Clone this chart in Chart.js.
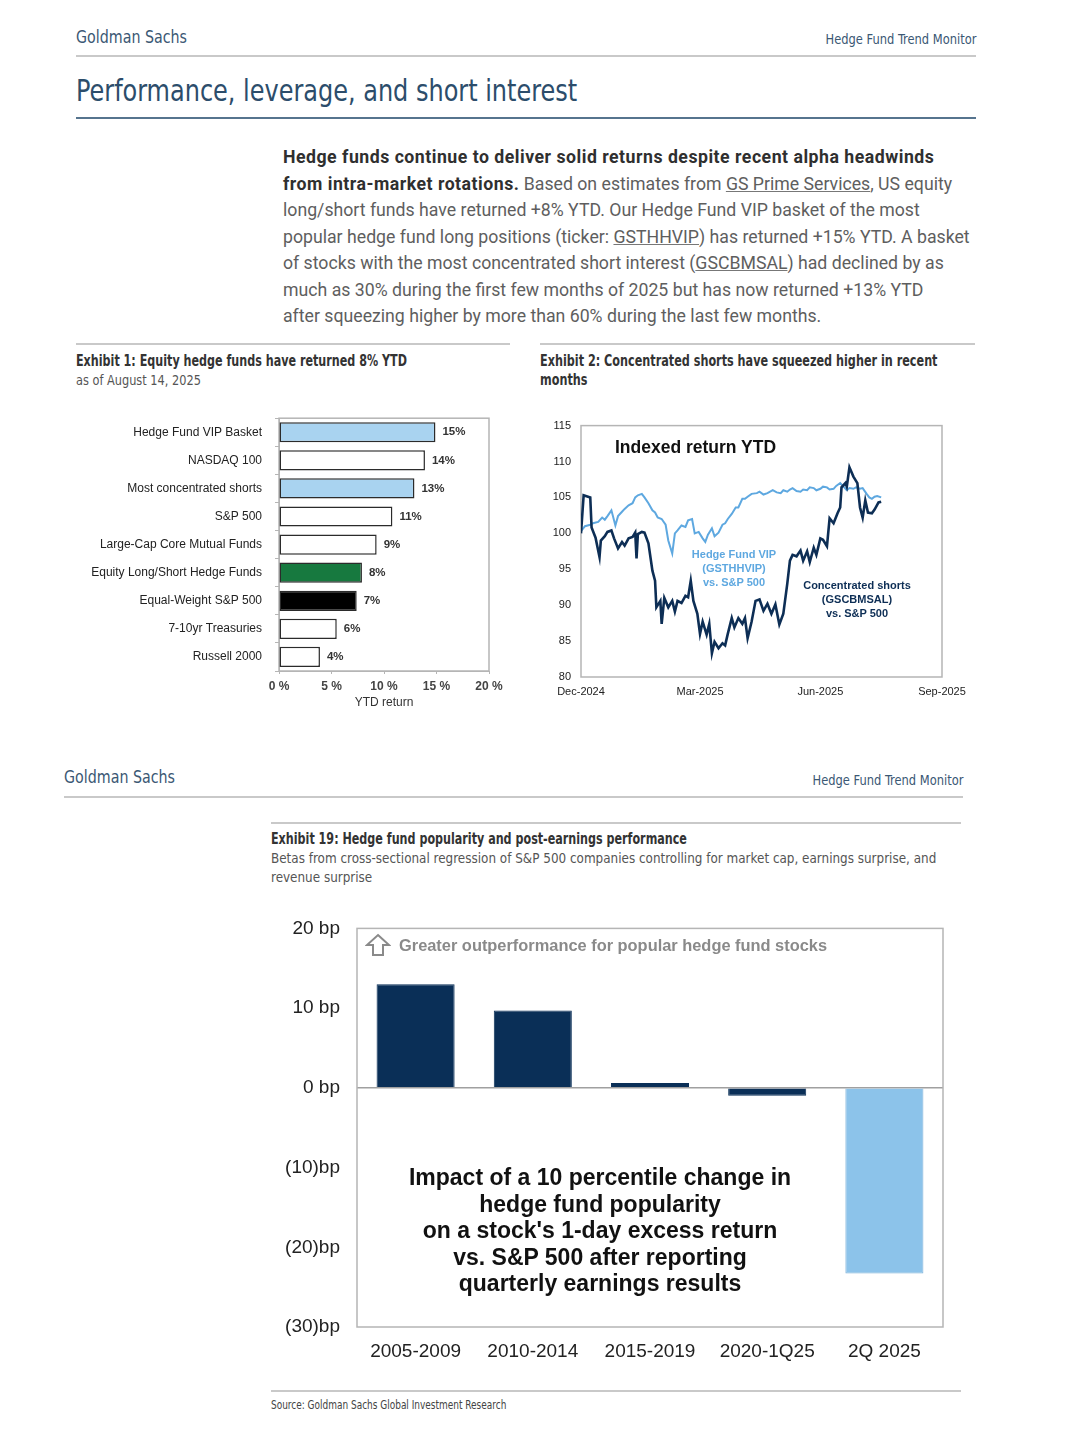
<!DOCTYPE html>
<html>
<head>
<meta charset="utf-8">
<title>Hedge Fund Trend Monitor</title>
<script src="https://cdn.jsdelivr.net/npm/chart.js"></script>
<style>
	body { margin: 0; background: #ffffff; }
	.page { position: relative; width: 1080px; height: 1440px; overflow: hidden; }
	.abs { position: absolute; white-space: nowrap; }
	.narrow { font-family: 'Liberation Sans Narrow', 'DejaVu Sans Condensed', 'Roboto', sans-serif; transform-origin: left center; }
	.right { transform-origin: right center; }
	.gs { color: #3b5874; font-size: 18px; line-height: 20px; }
	.monitor { color: #3b5874; font-size: 14.5px; line-height: 18px; }
	.rule { position: absolute; height: 2px; background: #c9c9c9; }
	.body { font-family: 'Roboto', 'Liberation Sans', sans-serif; font-size: 17.7px; line-height: 26.5px; color: #5e5e5e; left: 283px; top: 144px; }
	.body b { color: #2f2f2f; letter-spacing: 0.5px; }
	.body u { text-decoration-color: #777; }
	.extitle { font-weight: bold; color: #333; font-size: 15.5px; line-height: 19px; }
	.exsub { color: #555; font-size: 14.5px; line-height: 19px; }
	canvas { position: absolute; }
	.ann { font-family: 'Liberation Sans', Arial, sans-serif; font-weight: bold; text-align: center; }
</style>
</head>
<body>
<div class="page">

	<!-- page 1 header -->
	<div class="abs narrow gs" style="left:76px; top:27px; transform:scaleX(0.88);">Goldman Sachs</div>
	<div class="abs narrow monitor right" style="right:104px; top:30px; transform:scaleX(0.88);">Hedge Fund Trend Monitor</div>
	<div class="rule" style="left:76px; top:55px; width:900px;"></div>
	<div class="abs narrow" style="left:76px; top:71px; font-size:31px; line-height:38px; color:#2c4d6b; transform:scaleX(0.86);">Performance, leverage, and short interest</div>
	<div class="rule" style="left:76px; top:117px; width:900px; background:#56748e;"></div>

	<div class="abs body">
		<b>Hedge funds continue to deliver solid returns despite recent alpha headwinds</b><br>
		<b>from intra-market rotations.</b> Based on estimates from <u>GS Prime Services</u>, US equity<br>
		long/short funds have returned +8% YTD. Our Hedge Fund VIP basket of the most<br>
		popular hedge fund long positions (ticker: <u>GSTHHVIP</u>) has returned +15% YTD. A basket<br>
		of stocks with the most concentrated short interest (<u>GSCBMSAL</u>) had declined by as<br>
		much as 30% during the first few months of 2025 but has now returned +13% YTD<br>
		after squeezing higher by more than 60% during the last few months.
	</div>

	<!-- exhibit 1 -->
	<div class="rule" style="left:76px; top:343px; width:434px;"></div>
	<div class="abs narrow extitle" style="left:76px; top:352px; transform:scaleX(0.8);">Exhibit 1: Equity hedge funds have returned 8% YTD</div>
	<div class="abs narrow exsub" style="left:76px; top:371px; transform:scaleX(0.87);">as of August 14, 2025</div>
	<canvas id="chart1" width="440" height="317" style="left:76px; top:398px; width:440px; height:317px;"></canvas>

	<!-- exhibit 2 -->
	<div class="rule" style="left:540px; top:343px; width:435px;"></div>
	<div class="abs narrow extitle" style="left:540px; top:352px; transform:scaleX(0.805);">Exhibit 2: Concentrated shorts have squeezed higher in recent<br>months</div>
	<canvas id="chart2" width="440" height="299" style="left:540px; top:409px; width:440px; height:299px;"></canvas>
	<div class="abs ann" style="left:615px; top:437px; font-size:17.5px; line-height:20px; color:#111;">Indexed return YTD</div>
	<div class="abs ann" style="left:674px; top:547px; width:120px; font-size:11px; line-height:14px; color:#5ea8e0;">Hedge Fund VIP<br>(GSTHHVIP)<br>vs. S&amp;P 500</div>
	<div class="abs ann" style="left:792px; top:578px; width:130px; font-size:11px; line-height:14px; color:#0d2e55;">Concentrated shorts<br>(GSCBMSAL)<br>vs. S&amp;P 500</div>

	<!-- page 2 header -->
	<div class="abs narrow gs" style="left:64px; top:767px; transform:scaleX(0.88);">Goldman Sachs</div>
	<div class="abs narrow monitor right" style="right:117px; top:771px; transform:scaleX(0.88);">Hedge Fund Trend Monitor</div>
	<div class="rule" style="left:64px; top:796px; width:899px;"></div>

	<!-- exhibit 19 -->
	<div class="rule" style="left:271px; top:822px; width:690px;"></div>
	<div class="abs narrow extitle" style="left:271px; top:830px; transform:scaleX(0.8);">Exhibit 19: Hedge fund popularity and post-earnings performance</div>
	<div class="abs narrow exsub" style="left:271px; top:849px; transform:scaleX(0.92); transform-origin:left top;">Betas from cross-sectional regression of S&amp;P 500 companies controlling for market cap, earnings surprise, and<br>revenue surprise</div>
	<canvas id="chart3" width="700" height="472" style="left:270px; top:900px; width:700px; height:472px;"></canvas>
	<svg class="abs" style="left:365px; top:933px;" width="26" height="24" viewBox="0 0 26 24">
		<path d="M13 2 L24 12 L18 12 L18 22 L8 22 L8 12 L2 12 Z" fill="none" stroke="#8a8a8a" stroke-width="2" stroke-linejoin="miter"/>
	</svg>
	<div class="abs ann" style="left:399px; top:935px; font-size:16.4px; line-height:20px; color:#8a8a8a;">Greater outperformance for popular hedge fund stocks</div>
	<div class="abs ann" style="left:360px; top:1164px; width:480px; font-size:23px; line-height:26.5px; color:#111;">Impact of a 10 percentile change in<br>hedge fund popularity<br>on a stock's 1-day excess return<br>vs. S&amp;P 500 after reporting<br>quarterly earnings results</div>

	<div class="rule" style="left:271px; top:1390px; width:690px;"></div>
	<div class="abs narrow" style="left:271px; top:1398px; font-size:12px; line-height:15px; color:#444; transform:scaleX(0.83);">Source: Goldman Sachs Global Investment Research</div>
</div>

<script>

	// exhibit 1 - YTD return (%)
	var ytdLabels = ['Hedge Fund VIP Basket', 'NASDAQ 100', 'Most concentrated shorts', 'S&P 500', 'Large-Cap Core Mutual Funds', 'Equity Long/Short Hedge Funds', 'Equal-Weight S&P 500', '7-10yr Treasuries', 'Russell 2000']
	var ytdValues = [14.9, 13.9, 12.9, 10.8, 9.3, 7.9, 7.4, 5.5, 3.9]
	var ytdColors = ['#a9d3f0', '#ffffff', '#a9d3f0', '#ffffff', '#ffffff', '#17793f', '#000000', '#ffffff', '#ffffff']

	// exhibit 2 - indexed return, days after 31 Dec 2024
	var monthTickDays = [0, 90, 181, 273]
	var monthTickLabels = ['Dec-2024', 'Mar-2025', 'Jun-2025', 'Sep-2025']

	var shortsDays = [0, 2, 7, 8, 11, 14, 15, 18, 20, 23, 25, 28, 31, 33, 36, 39, 41, 42, 43, 46, 48, 51, 54, 56, 57, 60, 61, 63, 66, 69, 71, 73, 76, 79, 81, 83, 85, 88, 90, 92, 95, 97, 99, 101, 104, 107, 109, 111, 114, 116, 119, 122, 124, 126, 129, 132, 135, 138, 141, 144, 147, 150, 153, 156, 158, 160, 163, 166, 168, 171, 173, 176, 178, 181, 183, 186, 188, 191, 194, 196, 197, 200, 201, 203, 206, 209, 211, 213, 215, 217, 220, 222, 225, 227]
	var shortsVals = [100, 105.3, 105, 100.8, 99.4, 96.7, 99, 99.6, 100.2, 100.4, 99.3, 97.9, 98.8, 98.3, 99.3, 99.5, 100.1, 96.5, 99.9, 100.2, 100.1, 98.6, 94.8, 93.4, 89.7, 90.6, 87.4, 91, 89.7, 90.6, 89.1, 90.6, 90.3, 91.3, 91.1, 93.4, 90.6, 88.8, 86, 87.7, 85.9, 87.4, 83.3, 84.9, 84, 84.7, 84.4, 86, 88.2, 86.9, 88.2, 87.4, 88.2, 85.4, 87.7, 90.6, 90.8, 89.2, 90.2, 88.8, 90.1, 87.3, 88.8, 93, 96.2, 97, 96.8, 97.6, 96.2, 97.5, 96, 98, 97, 99.3, 99.1, 98.2, 102.1, 101.4, 102.8, 103.6, 106.4, 107, 106.5, 109.2, 107.9, 107, 103.6, 102.2, 104.6, 102.9, 102.8, 103.3, 104.3, 104.4]

	var vipDays = [0, 3, 7, 9, 13, 16, 18, 20, 23, 26, 28, 31, 33, 36, 39, 41, 43, 46, 48, 51, 54, 56, 58, 61, 64, 66, 69, 71, 73, 76, 79, 81, 84, 86, 89, 92, 94, 96, 99, 101, 104, 107, 109, 111, 114, 117, 119, 122, 124, 126, 129, 133, 135, 138, 141, 145, 148, 151, 153, 156, 158, 160, 163, 166, 168, 171, 173, 176, 178, 181, 183, 186, 188, 191, 193, 196, 198, 201, 203, 206, 208, 211, 213, 216, 218, 220, 222, 224, 227]
	var vipVals = [100.3, 101, 101.2, 101.4, 101.6, 102.2, 101.9, 102.4, 103.2, 101.1, 102.4, 103, 103.4, 103.9, 104.2, 105, 105.3, 105.5, 105, 104.2, 103.2, 102.9, 102.2, 102, 101.2, 99, 97.2, 100, 100.4, 101.1, 100.9, 101.8, 102, 100, 100.2, 99.3, 98.8, 99.8, 100.7, 99.6, 100.1, 101.2, 101.4, 102, 102.7, 103.6, 103.6, 104.8, 104.8, 105.1, 105.5, 105.6, 105.8, 105.4, 105.6, 106, 105.7, 105.6, 106, 105.8, 106.1, 106.3, 105.9, 105.8, 106.1, 106, 106.4, 106.3, 106, 106.2, 106.5, 106.4, 106.1, 106.2, 106.6, 107, 106.6, 106, 106.3, 106.2, 106.4, 106.2, 106.3, 105.5, 105, 104.8, 105.1, 105.2, 105]

	// exhibit 19 - beta in bp
	var periodLabels = ['2005-2009', '2010-2014', '2015-2019', '2020-1Q25', '2Q 2025']
	var betaValues = [13, 9.7, 0.6, -1.0, -23.3]
	var betaColors = ['#0a2f57', '#0a2f57', '#0a2f57', '#0a2f57', '#8cc3ea']


	Chart.defaults.font.family = "'Liberation Sans', Arial, sans-serif";
	Chart.defaults.color = '#222';
	Chart.defaults.animation = false;

	// draws the grey box round the plot area
	var frame = {
		id: 'frame',
		beforeDatasetsDraw: function(chart) {
			var a = chart.chartArea, c = chart.ctx;
			c.save();
			c.strokeStyle = '#b5b5b5';
			c.lineWidth = 1.5;
			c.strokeRect(a.left, a.top, a.right - a.left, a.bottom - a.top);
			c.restore();
		}
	};

	// value labels at the end of the bars of exhibit 1
	var barValues = {
		id: 'barValues',
		afterDatasetsDraw: function(chart) {
			var c = chart.ctx;
			var meta = chart.getDatasetMeta(0);
			c.save();
			c.font = "bold 11.5px 'Liberation Sans', Arial, sans-serif";
			c.fillStyle = '#333';
			c.textAlign = 'left';
			c.textBaseline = 'middle';
			meta.data.forEach(function(bar, i) {
				c.fillText(Math.round(ytdValues[i]) + '%', bar.x + 7, bar.y);
			});
			c.restore();
		}
	};


	// exhibit 1
	var chart1 = new Chart(document.getElementById('chart1').getContext('2d'), {
		type: 'bar',
		data: {
			labels: ytdLabels,
			datasets: [{ data: ytdValues, backgroundColor: ytdColors, borderColor: '#2b2b2b', borderWidth: 1.5, borderSkipped: false, barPercentage: 0.72, categoryPercentage: 1 }]
		},
		options: {
			indexAxis: 'y',
			responsive: false,
			layout: { padding: { top: 0, right: 27, bottom: 0, left: 0 } },
			plugins: { legend: { display: false }, tooltip: { enabled: false } },
			scales: {
				x: {
					min: 0, max: 20,
					ticks: { stepSize: 5, padding: 5, font: { size: 12, weight: 'bold' }, color: '#444', callback: function(v) { return v + ' %'; } },
					grid: { drawOnChartArea: false, tickLength: 3, color: '#b5b5b5' },
					border: { color: '#b5b5b5' },
					title: { display: true, text: 'YTD return', font: { size: 12 }, color: '#333', padding: { top: 0, bottom: 5 } },
					afterFit: function(s) { s.height = 44; }
				},
				y: {
					ticks: { padding: 13, font: { size: 12 } },
					grid: { drawOnChartArea: false, tickLength: 4, color: '#b5b5b5' },
					border: { color: '#b5b5b5' },
					afterFit: function(s) { s.width = 203; }
				}
			}
		},
		plugins: [frame, barValues]
	});


	// exhibit 2
	var chart2 = new Chart(document.getElementById('chart2').getContext('2d'), {
		type: 'line',
		data: {
			datasets: [
				{ label: 'Concentrated shorts', data: shortsDays.map(function(d, i) { return { x: d, y: shortsVals[i] }; }), borderColor: '#0d2e55', borderWidth: 2.6, pointRadius: 0, tension: 0 },
				{ label: 'Hedge Fund VIP', data: vipDays.map(function(d, i) { return { x: d, y: vipVals[i] }; }), borderColor: '#5ea8e0', borderWidth: 2, pointRadius: 0, tension: 0 }
			]
		},
		options: {
			responsive: false,
			layout: { padding: { top: 0, right: 38, bottom: 0, left: 0 } },
			plugins: { legend: { display: false }, tooltip: { enabled: false } },
			scales: {
				x: {
					type: 'linear', min: 0, max: 273,
					afterBuildTicks: function(s) { s.ticks = monthTickDays.map(function(v) { return { value: v }; }); },
					ticks: { padding: 8, maxRotation: 0, font: { size: 11 }, callback: function(v) { return monthTickLabels[monthTickDays.indexOf(v)]; } },
					grid: { display: false, drawTicks: false },
					border: { display: false },
					afterFit: function(s) { s.height = 31; }
				},
				y: {
					min: 80, max: 115,
					ticks: { stepSize: 5, padding: 10, font: { size: 11 } },
					grid: { display: false, drawTicks: false },
					border: { display: false },
					afterFit: function(s) { s.width = 41; }
				}
			}
		},
		plugins: [frame]
	});


	// exhibit 19
	var chart3 = new Chart(document.getElementById('chart3').getContext('2d'), {
		type: 'bar',
		data: {
			labels: periodLabels,
			datasets: [{ data: betaValues, backgroundColor: betaColors, borderColor: betaColors.map(function(c) { return c == '#8cc3ea' ? '#79afd8' : c; }), borderWidth: 1, barPercentage: 0.666, categoryPercentage: 1 }]
		},
		options: {
			responsive: false,
			layout: { padding: { top: 0, right: 27, bottom: 0, left: 0 } },
			plugins: { legend: { display: false }, tooltip: { enabled: false } },
			scales: {
				x: {
					ticks: { padding: 13, font: { size: 19 }, color: '#222' },
					grid: { display: false, drawTicks: false },
					border: { display: false },
					afterFit: function(s) { s.height = 45; }
				},
				y: {
					min: -30, max: 20,
					ticks: {
						stepSize: 10, padding: 17, font: { size: 19 }, color: '#222',
						callback: function(v) { return v > 0 ? v + ' bp' : (v == 0 ? '0 bp' : '(' + (-v) + ')bp'); }
					},
					grid: { drawTicks: false, lineWidth: 1.5, color: function(ctx) { return ctx.tick && ctx.tick.value === 0 ? '#a0a0a0' : 'rgba(0,0,0,0)'; } },
					border: { display: false },
					afterFit: function(s) { s.width = 87; }
				}
			}
		},
		plugins: [frame]
	});

</script>
</body>
</html>
